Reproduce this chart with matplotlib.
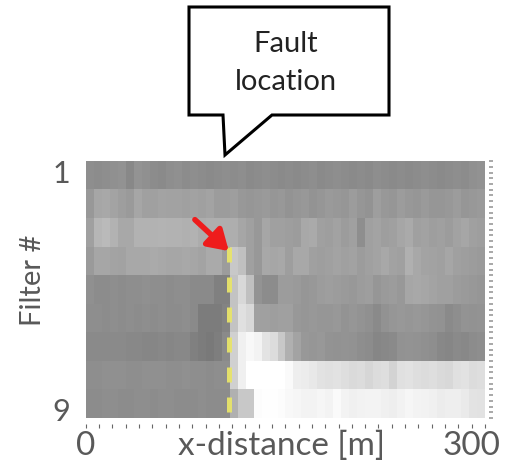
import numpy as np
import matplotlib.pyplot as plt
from matplotlib.patches import Polygon

plt.rcParams['font.family'] = ['Lato', 'DejaVu Sans']
plt.rcParams['lines.scale_dashes'] = False

# gray level (0-255) per filter row, 50 cells along the profile
row1 = [142, 140, 142, 144, 146, 136, 148, 144, 140, 138, 142, 144, 140, 142, 140, 138, 140, 142, 140, 142,
        138, 140, 142, 140, 138, 140, 138, 140, 142, 138, 140, 142, 140, 138, 140, 138, 142, 140, 138, 140,
        138, 140, 142, 140, 138, 140, 142, 140, 144, 146]
row2 = [152, 166, 168, 164, 158, 154, 166, 160, 160, 164, 162, 162, 160, 162, 160, 164, 156, 156, 158, 152,
        150, 152, 154, 150, 152, 148, 150, 152, 148, 150, 154, 152, 150, 156, 150, 148, 158, 152, 150, 156,
        152, 150, 154, 150, 150, 152, 156, 150, 152, 154]
row3 = [160, 182, 186, 178, 168, 168, 178, 178, 178, 180, 178, 178, 176, 178, 172, 174, 174, 174, 174, 166,
        160, 152, 166, 160, 160, 158, 156, 168, 170, 160, 158, 162, 156, 160, 142, 160, 164, 158, 160, 166,
        170, 160, 162, 158, 160, 156, 162, 166, 160, 158]
row4 = [154, 166, 166, 164, 162, 168, 168, 168, 170, 168, 166, 166, 168, 166, 164, 170, 170, 156, 200, 192,
        160, 152, 168, 166, 168, 158, 168, 168, 160, 158, 160, 164, 160, 162, 156, 160, 164, 168, 162, 160,
        176, 168, 164, 162, 160, 166, 160, 158, 156, 154]
row5 = [144, 140, 140, 142, 140, 142, 142, 144, 142, 142, 140, 142, 142, 138, 138, 138, 128, 128, 196, 216,
        192, 148, 140, 140, 156, 156, 154, 150, 152, 156, 158, 156, 154, 152, 156, 158, 150, 154, 156, 152,
        166, 168, 166, 164, 160, 160, 156, 154, 152, 150]
row6 = [142, 142, 140, 142, 140, 142, 140, 142, 140, 142, 140, 140, 142, 138, 124, 124, 124, 132, 196, 224,
        216, 160, 160, 158, 160, 160, 152, 150, 152, 150, 150, 152, 148, 150, 148, 144, 138, 146, 150, 152,
        150, 152, 150, 148, 146, 138, 142, 148, 146, 148]
row7 = [138, 138, 138, 138, 138, 136, 136, 134, 134, 136, 134, 136, 136, 128, 124, 122, 126, 138, 208, 240,
        248, 244, 228, 220, 200, 176, 164, 152, 150, 152, 148, 146, 148, 146, 142, 140, 134, 136, 138, 146,
        148, 146, 144, 142, 136, 134, 138, 136, 140, 142]
row8 = [142, 142, 144, 144, 144, 142, 142, 144, 144, 144, 142, 142, 144, 142, 142, 140, 142, 142, 208, 240,
        255, 255, 255, 255, 255, 250, 238, 236, 232, 226, 224, 226, 222, 218, 220, 214, 220, 222, 212, 224,
        226, 222, 220, 222, 218, 216, 224, 226, 220, 222]
row9 = [140, 140, 142, 142, 140, 140, 142, 142, 140, 142, 142, 140, 140, 140, 142, 140, 140, 140, 176, 200,
        200, 252, 254, 254, 252, 248, 246, 244, 244, 246, 244, 250, 244, 240, 242, 244, 244, 240, 238, 242,
        246, 244, 242, 240, 236, 238, 238, 234, 228, 226]

filter_gray = np.array([row1, row2, row3, row4, row5, row6, row7, row8, row9])
x_max = 300
x_labels = [(0, '0'), (290, '300')]
y_labels = [(0.85, '1'), (9.2, '9')]
fault_x = 108
fault_top_row = 3.5
arrow_start = (82, 2.55)
arrow_end = (107.5, 3.65)

fig = plt.figure(figsize=(5.05, 4.62), dpi=100)
ax = fig.add_axes([0.170, 0.0952, 0.790, 0.556])

ax.imshow(filter_gray, cmap='gray', vmin=0, vmax=255, aspect='auto',
          interpolation='nearest', extent=[0, x_max, 9.5, 0.5])

for s in ax.spines.values():
    s.set_visible(False)
ax.spines['bottom'].set_position(('outward', 4))
ax.spines['right'].set_position(('outward', 3))

label_color = '#595959'
ax.set_xticks([])
ax.set_xticks(np.arange(0, x_max + 1, 10), minor=True)
ax.tick_params(axis='x', which='minor', length=3, width=0.8, color='#666666')
ax.set_yticks([v for v, _ in y_labels])
ax.set_yticklabels([t for _, t in y_labels], fontsize=22, color=label_color)
ax.tick_params(axis='y', which='major', left=False, pad=8)
ax.set_yticks(np.linspace(0.5, 9.5, 46), minor=True)
ax.tick_params(axis='y', which='minor', left=False, right=True, length=3,
               width=1.2, color='#999999', direction='out', pad=0)
ax.set_ylabel('Filter #', fontsize=21, color=label_color)
ax.yaxis.set_label_coords(-0.10, 0.535)
ax.set_xlim(0, x_max)
ax.set_ylim(9.5, 0.5)

# x labels share one baseline under the axis
base = ax.get_xaxis_transform()
for xv, txt in x_labels:
    ax.text(xv, -0.145, txt, transform=base, ha='center', va='baseline',
            fontsize=24, color=label_color)
ax.text(0.49, -0.145, 'x-distance [m]', transform=ax.transAxes, ha='center',
        va='baseline', fontsize=24, color=label_color)

# fault trace
ax.plot([fault_x, fault_x], [fault_top_row, 9.8], dashes=(10.8, 10.8),
        color='#e8e46a', lw=3.6, alpha=0.95, clip_on=False)

ax.annotate('', xy=arrow_end, xytext=arrow_start,
            arrowprops=dict(arrowstyle='-|>,head_length=1.2,head_width=0.75',
                            color='#ee1c1c', lw=4, shrinkA=0, shrinkB=0))

# speech bubble
W, H = 505.0, 462.0
bubble_px = [(189, 7), (389, 7), (389, 115), (272, 115), (225, 155), (223, 115), (189, 115)]
bubble = Polygon([(x / W, 1 - y / H) for x, y in bubble_px], closed=True,
                 transform=fig.transFigure, facecolor='white', edgecolor='black', lw=2.2)
fig.patches.append(bubble)
fig.text(286 / W, 1 - 63 / H, 'Fault\nlocation', ha='center', va='center',
         fontsize=21, color='#222222', linespacing=1.6)

fig.savefig('out.png', dpi=100)
